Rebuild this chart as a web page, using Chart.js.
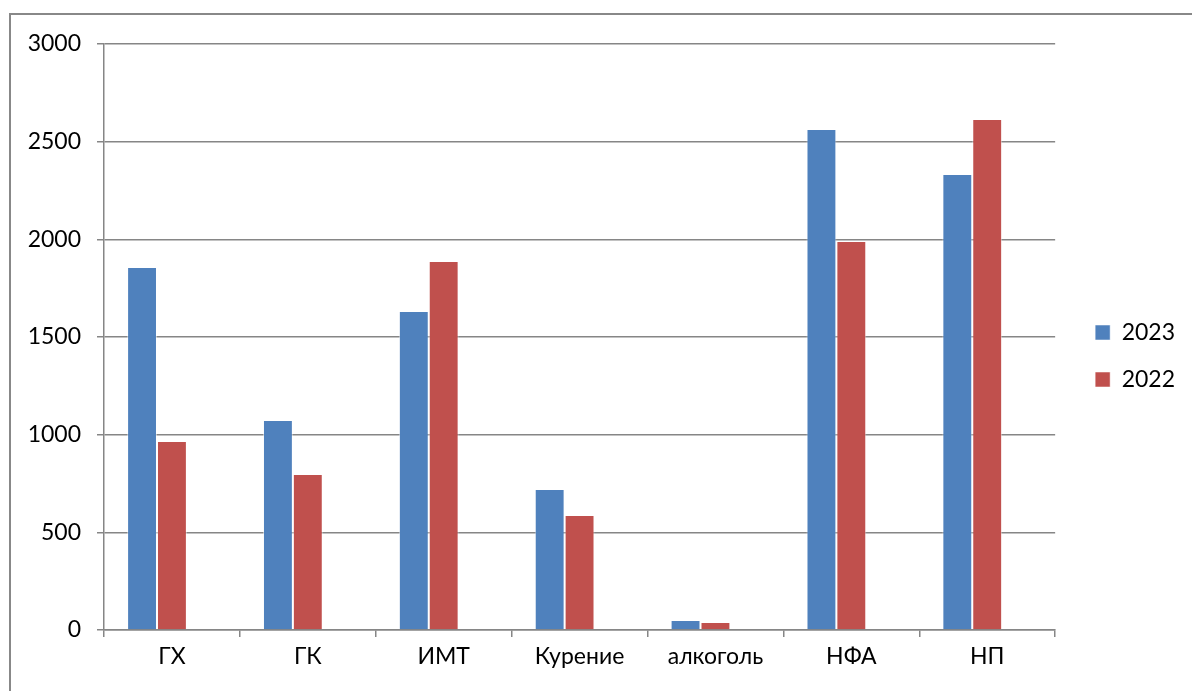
<!DOCTYPE html>
<html>
<head>
<meta charset="utf-8">
<script src="https://cdn.jsdelivr.net/npm/chart.js@4/dist/chart.umd.min.js"></script>
<style>
  html, body { margin: 0; padding: 0; background: #fff; }
  #frame {
    position: absolute; left: 9px; top: 13px; right: -5px; bottom: -5px;
    border: 2px solid #888;
  }
  #wrap { position: absolute; left: 0; top: 0; width: 1192px; height: 691px; }
</style>
</head>
<body>
<div id="frame"></div>
<div id="wrap"><canvas id="chart"></canvas></div>
<script>
// Данные
const categories = ["ГХ", "ГК", "ИМТ", "Курение", "алкоголь", "НФА", "НП"];
const values2023 = [1858, 1075, 1633, 722, 51, 2565, 2334];
const values2022 = [967, 799, 1889, 589, 41, 1991, 2616];
const yTicks = [0, 500, 1000, 1500, 2000, 2500, 3000];

const gridColor = "#868686";
const font = { family: "Lato", size: 23 };

const ctx = document.getElementById("chart").getContext("2d");

new Chart(ctx, {
  type: "bar",
  data: {
    labels: categories,
    datasets: [
      { label: "2023", data: values2023, backgroundColor: "#4F81BD", borderColor: "rgba(255,255,255,0.5)", borderWidth: 1 },
      { label: "2022", data: values2022, backgroundColor: "#C0504D", borderColor: "rgba(255,255,255,0.5)", borderWidth: 1 },
      // пустой третий ряд, как в исходной диаграмме
      { label: "", data: [], backgroundColor: "transparent" },
    ],
  },
  options: {
    responsive: true,
    maintainAspectRatio: false,
    animation: false,
    layout: { padding: { left: 0, top: 44, right: 7, bottom: 0 } },
    datasets: { bar: { categoryPercentage: 0.66, barPercentage: 1 } },
    scales: {
      x: {
        grid: { offset: true, drawOnChartArea: false, drawTicks: true, tickLength: 7, color: gridColor, lineWidth: 1.5 },
        border: { color: gridColor, width: 1.5 },
        ticks: { color: "#000", font, padding: 6 },
        afterFit: (scale) => { scale.height = 61; },
      },
      y: {
        min: 0,
        max: 3000,
        afterBuildTicks: (scale) => { scale.ticks = yTicks.map(v => ({ value: v })); },
        grid: { color: gridColor, lineWidth: 1.5, tickLength: 7 },
        border: { color: gridColor, width: 1.5 },
        ticks: { color: "#000", font, padding: 16, callback: (v) => String(v) },
        afterFit: (scale) => { scale.width = 104; },
      },
      // пустая ось-прокладка между областью графика и легендой
      spacer: {
        type: "linear",
        position: "right",
        grid: { display: false },
        border: { display: false },
        ticks: { display: false },
        afterFit: (scale) => { scale.width = 16; },
      },
    },
    plugins: {
      legend: {
        position: "right",
        align: "start",
        title: { display: true, text: " ", font: { size: 10 }, padding: { top: 120, bottom: 121 } },
        labels: {
          color: "#000",
          font,
          boxWidth: 15,
          boxHeight: 15,
          padding: 24,
          filter: (item) => item.text !== "",
        },
      },
      tooltip: { enabled: false },
    },
  },
});
</script>
</body>
</html>
